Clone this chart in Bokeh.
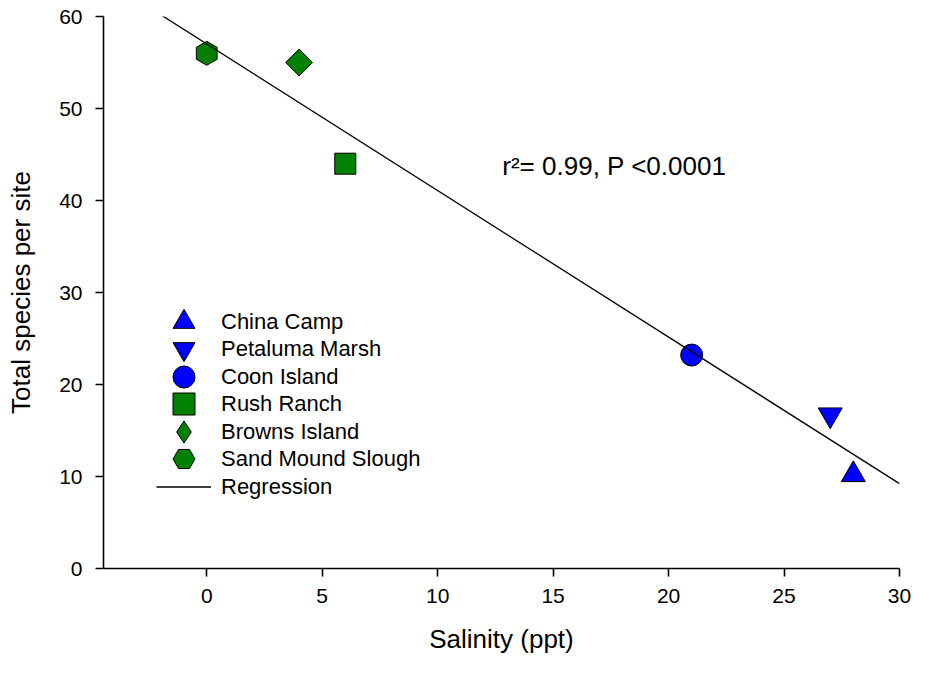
import numpy as np
from bokeh.plotting import figure
from bokeh.models import Range1d, FixedTicker, Legend, LegendItem, Label, ColumnDataSource
from bokeh.embed import file_html
from bokeh.resources import INLINE

# Data
sites = ["China Camp", "Petaluma Marsh", "Coon Island", "Rush Ranch", "Browns Island", "Sand Mound Slough"]
salinity = [28, 27, 21, 6, 4, 0]
species = [10.2, 16.7, 23.2, 44.0, 55.0, 56.0]
markers = ["triangle", "inverted_triangle", "circle", "square", "square", "hex"]
legend_markers = ["triangle", "inverted_triangle", "circle", "square", "diamond", "hex"]
colors = ["#0000FF", "#0000FF", "#0000FF", "#008000", "#008000", "#008000"]
sizes = [24, 24, 22, 21, 19, 24]
angles = [0, 0, 0, 0, np.pi / 4, np.pi / 6]
reg_x = [-2, 30]
x_ticks = [0, 5, 10, 15, 20, 25, 30]
y_ticks = [0, 10, 20, 30, 40, 50, 60]
annotation = "r\u00b2= 0.99, P <0.0001"

FONT = "Liberation Sans"

p = figure(width=912, height=663, output_backend="svg", toolbar_location=None,
           x_range=Range1d(-4.47, 30), y_range=Range1d(0, 60),
           min_border_left=103, min_border_right=13, min_border_top=16, min_border_bottom=95)
p.outline_line_color = None
p.grid.visible = False

# regression computed from data
slope, intercept = np.polyfit(salinity, species, 1)
reg_y = [slope * x + intercept for x in reg_x]

items = []
for i, name in enumerate(sites):
    src = ColumnDataSource(dict(x=[salinity[i]], y=[species[i]], angle=[angles[i]]))
    r = p.scatter("x", "y", source=src, marker=markers[i], size=sizes[i], angle="angle",
                  fill_color=colors[i], line_color="black", line_width=1)
    if legend_markers[i] != markers[i]:
        # legend-only proxy (legend glyphs are drawn unrotated)
        r = p.scatter(x=[np.nan], y=[np.nan], marker=legend_markers[i], size=sizes[i],
                      fill_color=colors[i], line_color="black", line_width=1)
    items.append(LegendItem(label=name, renderers=[r]))
rl = p.line(reg_x, reg_y, line_color="black", line_width=1.3)
items.append(LegendItem(label="Regression", renderers=[rl]))

common = dict(padding=0, margin=0, spacing=0, glyph_width=55, glyph_height=55, label_standoff=10,
              border_line_alpha=0, background_fill_alpha=0,
              label_text_font=FONT, label_text_font_size="22px", label_text_color="black")
legend_a = Legend(items=items[0::2], location=(53, 54), **common)
legend_b = Legend(items=items[1::2], location=(53, 82), **common)
p.add_layout(legend_a, "center")
p.add_layout(legend_b, "center")

p.add_layout(Label(x=12.8, y=43.8, text=annotation, text_baseline="middle",
                   text_font=FONT, text_font_size="26px", text_color="black"))

for ax, ticks in ((p.xaxis[0], x_ticks), (p.yaxis[0], y_ticks)):
    ax.ticker = FixedTicker(ticks=ticks)
    ax.minor_tick_line_color = None
    ax.major_tick_out = 8
    ax.major_tick_in = 0
    ax.axis_line_width = 1.6
    ax.major_tick_line_width = 1.6
    ax.axis_line_color = "black"
    ax.major_tick_line_color = "black"
    ax.major_label_text_font = FONT
    ax.major_label_text_font_size = "21px"
    ax.major_label_text_color = "black"
    ax.axis_label_text_font = FONT
    ax.axis_label_text_font_size = "26px"
    ax.axis_label_text_font_style = "normal"
    ax.axis_label_text_color = "black"

p.xaxis.axis_label = "Salinity (ppt)"
p.yaxis.axis_label = "Total species per site"
p.xaxis.major_label_standoff = 12
p.yaxis.major_label_standoff = 13
p.xaxis.axis_label_standoff = 18
p.yaxis.axis_label_standoff = 20

open("out.html", "w").write(file_html(p, INLINE))
